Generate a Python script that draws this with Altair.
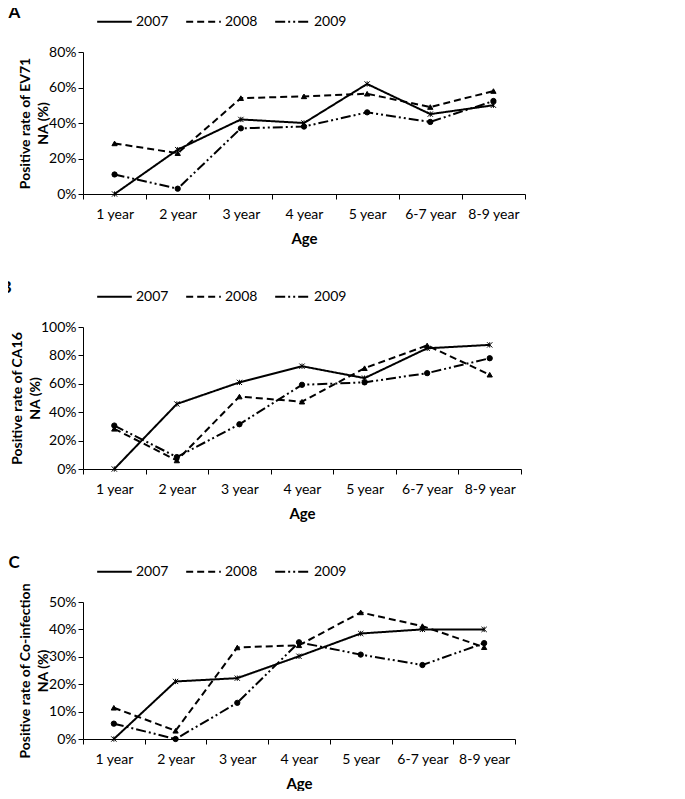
import altair as alt
import pandas as pd

ages = ["1 year", "2 year", "3 year", "4 year", "5 year", "6-7 year", "8-9 year"]
years = ["2007", "2008", "2009"]

ev71_2007 = [0, 25, 42, 40, 62, 45, 50]
ev71_2008 = [28.5, 23, 54, 55, 56.5, 49, 58]
ev71_2009 = [11, 3, 37, 38, 46, 40.6, 52.4]

ca16_2007 = [0, 45.8, 61, 72.4, 64, 85, 87.4]
ca16_2008 = [28.3, 6, 51, 47.4, 71, 87, 66.4]
ca16_2009 = [30.6, 8.4, 31.5, 59.3, 61, 67.5, 78]

co_2007 = [0, 21, 22.2, 30.2, 38.5, 40, 40]
co_2008 = [11.4, 3, 33.4, 34.2, 46.2, 41.2, 33.5]
co_2009 = [5.6, 0, 13.2, 35.3, 30.8, 27, 35]

FONT = "Lato"
XPATH = "M-1,-1L1,1M-1,1L1,-1M0,-1L0,1"
markers = {"2007": XPATH, "2008": "triangle-up", "2009": "circle"}


def panel(letter, series, ytitle, ymax, ystep, width, height):
    rows = []
    for yr, vals in zip(years, series):
        for a, v in zip(ages, vals):
            rows.append({"age": a, "year": yr, "value": v})
    df = pd.DataFrame(rows)
    ticks = list(range(0, ymax + 1, ystep))
    base = alt.Chart(df).encode(
        x=alt.X(
            "age:N",
            sort=ages,
            scale=alt.Scale(type="band", domain=ages, paddingInner=0, paddingOuter=0),
            axis=alt.Axis(
                title="Age",
                tickBand="extent",
                labelAngle=0,
                labelPadding=8,
                titlePadding=10,
                titleFontSize=15,
            ),
        ),
        y=alt.Y(
            "value:Q",
            scale=alt.Scale(domain=[0, ymax], nice=False),
            axis=alt.Axis(
                title=ytitle,
                values=ticks,
                labelExpr="datum.value + '%'",
                grid=False,
                titlePadding=-2,
                titleFontSize=14,
                titleLineHeight=18,
            ),
        ),
    )
    lines = base.mark_line(color="black", strokeWidth=2).encode(
        strokeDash=alt.StrokeDash(
            "year:N",
            scale=alt.Scale(domain=years, range=[[1, 0], [7, 4], [10, 3, 2, 3, 2, 3]]),
            legend=alt.Legend(
                title=None,
                orient="none",
                legendX=13,
                legendY=-49,
                direction="horizontal",
                symbolType="stroke",
                symbolSize=1200,
                symbolStrokeWidth=2,
                symbolStrokeColor="black",
                labelFontSize=14,
                labelFont=FONT,
                labelColor="black",
                columnPadding=13,
                labelOffset=3,
            ),
        )
    )
    layers = [lines]
    for yr in years:
        layers.append(
            base.transform_filter(alt.datum.year == yr).mark_point(
                shape=markers[yr],
                filled=True,
                color="black",
                stroke="black",
                strokeWidth=1,
                size=28,
                opacity=1,
            )
        )
    return alt.layer(*layers).properties(
        width=width,
        height=height,
        title=alt.TitleParams(
            letter,
            anchor="start",
            frame="bounds",
            fontSize=17,
            fontWeight="bold",
            font=FONT,
            dx=-10,
            offset=-19,
        ),
    )


pa = panel("A", [ev71_2007, ev71_2008, ev71_2009], ["Positive rate of EV71", "NA (%)"], 80, 20, 442, 142)
pb = panel("B", [ca16_2007, ca16_2008, ca16_2009], ["Positive rate of CA16", "NA (%)"], 100, 20, 438, 142)
pc = panel("C", [co_2007, co_2008, co_2009], ["Positive rate of Co-infection", "NA (%)"], 50, 10, 432, 137)

chart = (
    alt.concat(pa, pb, pc, columns=1, spacing=32, align="none")
    .resolve_legend(strokeDash="independent")
    .resolve_scale(strokeDash="independent")
    .properties(padding={"left": -8, "top": -5, "right": 5, "bottom": 0})
    .configure_view(stroke=None)
    .configure_axis(
        labelFont=FONT,
        titleFont=FONT,
        labelFontSize=14,
        titleFontWeight="bold",
        labelColor="black",
        titleColor="black",
        domainColor="black",
        tickColor="black",
        tickSize=5,
        domainWidth=1,
    )
)

chart.save("out.html", embed_options={"renderer": "svg", "actions": False})
